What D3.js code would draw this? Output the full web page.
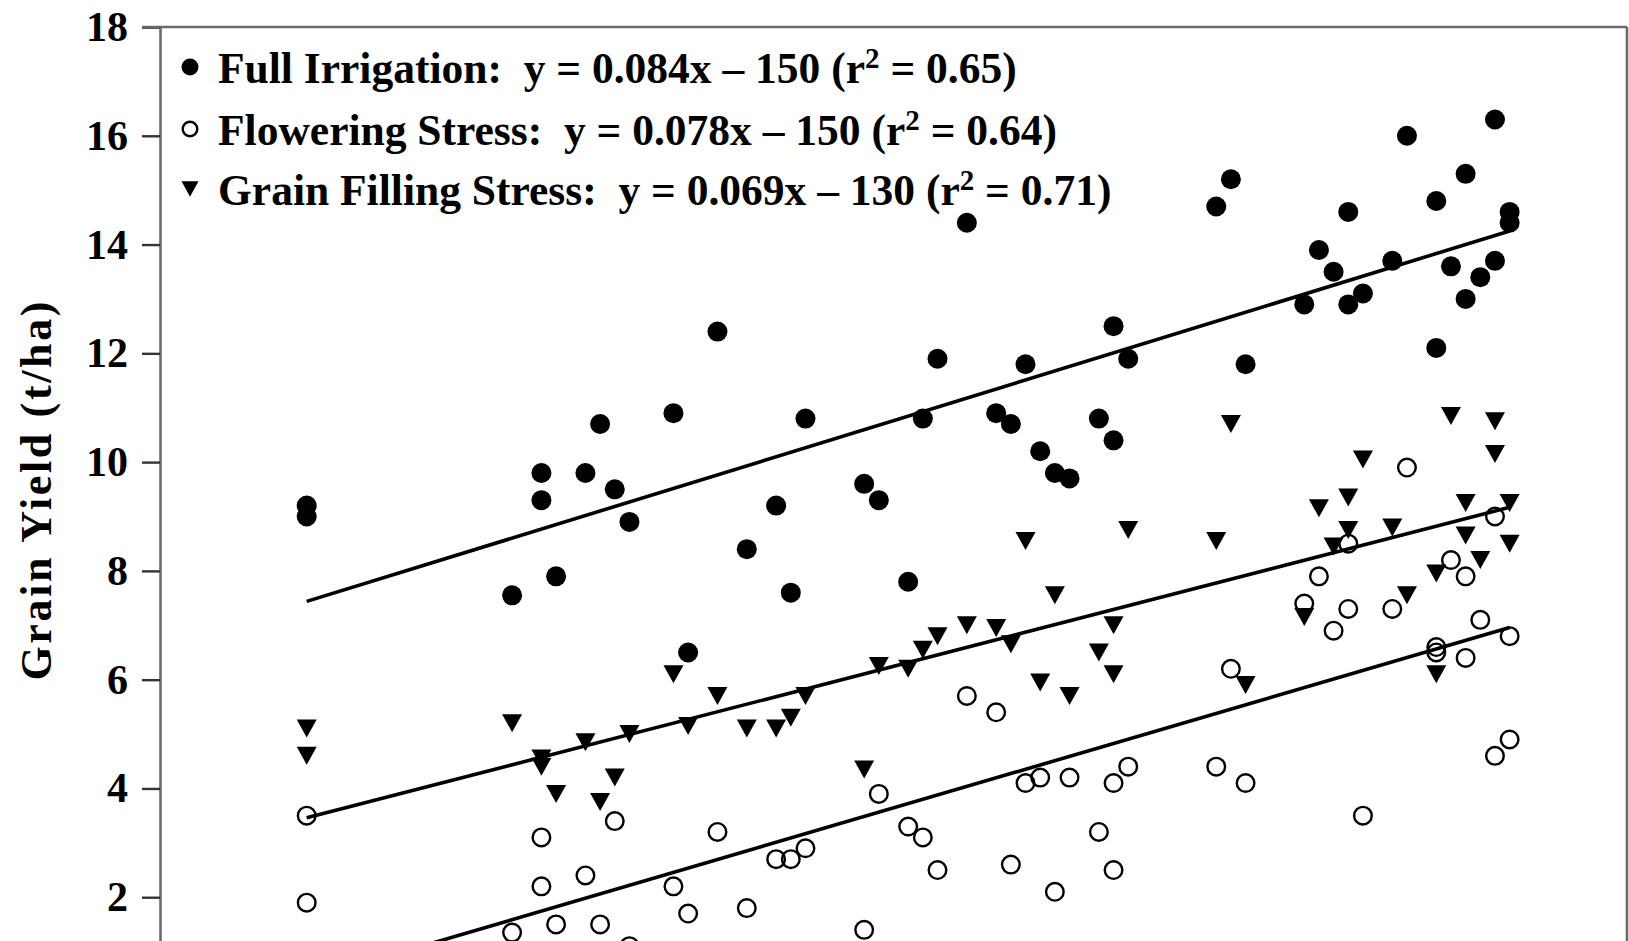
<!DOCTYPE html>
<html>
<head>
<meta charset="utf-8">
<script src="https://cdn.jsdelivr.net/npm/d3@7/dist/d3.min.js"></script>
<style>
  html, body { margin: 0; padding: 0; background: #fff; }
  svg { display: block; }
  text { font-family: "Liberation Serif", "Times New Roman", serif; font-weight: bold; fill: #000; }
</style>
</head>
<body>
<svg id="chart" width="1629" height="941"></svg>
<script>
// Year of hybrid release (two hybrids share some years)
const years = [1920,1920,1934,1936,1936,1937,1939,1940,1941,1942,1945,1946,1948,1950,1952,1953,1954,1958,1959,1961,1962,1963,1965,1967,1968,1969,1970,1971,1972,1974,1975,1975,1976,1982,1983,1984,1988,1989,1990,1991,1991,1992,1994,1995,1997,1997,1998,1999,1999,2000,2001,2001,2002,2002];

// Grain yield (t/ha) per treatment
const fullIrrigation = [9.2,9.0,7.55,9.8,9.3,7.9,9.8,10.7,9.5,8.9,10.9,6.5,12.4,8.4,9.2,7.6,10.8,9.6,9.3,7.8,10.8,11.9,14.4,10.9,10.7,11.8,10.2,9.8,9.7,10.8,12.5,10.4,11.9,14.7,15.2,11.8,12.9,13.9,13.5,14.6,12.9,13.1,13.7,16.0,14.8,12.1,13.6,15.3,13.0,13.4,16.3,13.7,14.6,14.4];
const floweringStress = [3.5,1.9,1.35,3.1,2.2,1.5,2.4,1.5,3.4,1.1,2.2,1.7,3.2,1.8,2.7,2.7,2.9,1.4,3.9,3.3,3.1,2.5,5.7,5.4,2.6,4.1,4.2,2.1,4.2,3.2,4.1,2.5,4.4,4.4,6.2,4.1,7.4,7.9,6.9,8.5,7.3,3.5,7.3,9.9,6.6,6.5,8.2,7.9,6.4,7.1,9.0,4.6,6.8,4.9];
const grainFillingStress = [5.1,4.6,5.2,4.55,4.4,3.9,4.85,3.75,4.2,5.0,6.1,5.15,5.7,5.1,5.1,5.3,5.7,4.35,6.25,6.2,6.55,6.8,7.0,6.95,6.65,8.55,5.95,7.55,5.7,6.5,7.0,6.1,8.75,8.55,10.7,5.9,7.15,9.15,8.45,9.35,8.75,10.05,8.8,7.55,7.95,6.1,10.85,9.25,8.65,8.2,10.75,10.15,9.25,8.5];

// Fitted regression lines, evaluated at the ends of the release range
const trendYears = [1920, 2002];
const fullTrend = [7.44, 14.25];
const floweringTrend = [0.48, 6.96];
const grainFillingTrend = [3.46, 9.17];

// Legend entries
const legendLabels = ["Full Irrigation:", "Flowering Stress:", "Grain Filling Stress:"];
const legendEquations = ["y = 0.084x \u2013 150", "y = 0.078x \u2013 150", "y = 0.069x \u2013 130"];
const legendR2 = ["0.65", "0.64", "0.71"];

const yTicks = [2, 4, 6, 8, 10, 12, 14, 16, 18];

const svg = d3.select("#chart");
const x = d3.scaleLinear().domain([1910, 2010]).range([160, 1627]);
const y = d3.scaleLinear().domain([0, 18]).range([1006, 27]);

const frameColor = "#6a6a6a";

// Y axis
const yAxis = d3.axisLeft(y).tickValues(yTicks).tickSize(18).tickPadding(14).tickFormat(d3.format("d"));
const gy = svg.append("g").attr("transform", `translate(${x(1910)},0)`).call(yAxis);
gy.select(".domain").attr("stroke", frameColor).attr("stroke-width", 2.6);
gy.selectAll(".tick line").attr("stroke", "#333").attr("stroke-width", 2.4);
gy.selectAll(".tick text")
  .style("font-family", '"Liberation Serif", serif')
  .style("font-weight", "bold")
  .style("font-size", "42px")
  .attr("fill", "#000");

// Top and right border of the plot area
svg.append("line")
  .attr("x1", x(1910) - 18).attr("x2", x(2010))
  .attr("y1", y(18)).attr("y2", y(18))
  .attr("stroke", frameColor).attr("stroke-width", 2.6);
svg.append("line")
  .attr("x1", x(2010)).attr("x2", x(2010))
  .attr("y1", y(18)).attr("y2", y(0))
  .attr("stroke", frameColor).attr("stroke-width", 2.6);

// Y axis title
svg.append("text")
  .attr("transform", `translate(51,${(y(18) + 941) / 2 + 7}) rotate(-90)`)
  .attr("text-anchor", "middle")
  .attr("textLength", 379)
  .attr("lengthAdjust", "spacing")
  .style("font-size", "44px")
  .text("Grain Yield (t/ha)");

// Regression lines
const trendLine = d3.line().x(d => x(d[0])).y(d => y(d[1]));
[fullTrend, floweringTrend, grainFillingTrend].forEach(t => {
  svg.append("path")
    .datum(trendYears.map((yr, i) => [yr, t[i]]))
    .attr("d", trendLine)
    .attr("fill", "none")
    .attr("stroke", "#000")
    .attr("stroke-width", 3.6);
});

// Marker drawing helpers
const triPath = (s) => `M${-s},${-s * 0.9}L${s},${-s * 0.9}L0,${s * 0.9}Z`;
function drawMarker(g, kind, size) {
  if (kind === 0) {
    g.append("circle").attr("r", size).attr("fill", "#000");
  } else if (kind === 1) {
    g.append("circle").attr("r", size - 1.2).attr("fill", "none").attr("stroke", "#000").attr("stroke-width", 2.4);
  } else {
    g.append("path").attr("d", triPath(size)).attr("fill", "#000");
  }
}

const seriesValues = [fullIrrigation, floweringStress, grainFillingStress];
// draw grain filling first, then flowering, then full irrigation on top
[2, 1, 0].forEach(k => {
  const g = svg.append("g");
  g.selectAll("g.pt")
    .data(years.map((yr, i) => [yr, seriesValues[k][i]]))
    .join("g")
    .attr("class", "pt")
    .attr("transform", d => `translate(${x(d[0])},${y(d[1])})`)
    .each(function () { drawMarker(d3.select(this), k, 10); });
});

// Legend
const legendRowsBaseline = [83, 145, 205];
legendLabels.forEach((lab, i) => {
  const mg = svg.append("g").attr("transform", `translate(190,${legendRowsBaseline[i] - 16})`);
  drawMarker(mg, i, 8.5);
  const t = svg.append("text")
    .attr("x", 218)
    .attr("y", legendRowsBaseline[i])
    .style("font-size", "43.5px")
    .style("white-space", "pre");
  t.append("tspan").text(lab + "  " + legendEquations[i] + " (r");
  t.append("tspan").attr("dy", -15).style("font-size", "29px").text("2");
  t.append("tspan").attr("dy", 15).text(" = " + legendR2[i] + ")");
});
</script>
</body>
</html>
